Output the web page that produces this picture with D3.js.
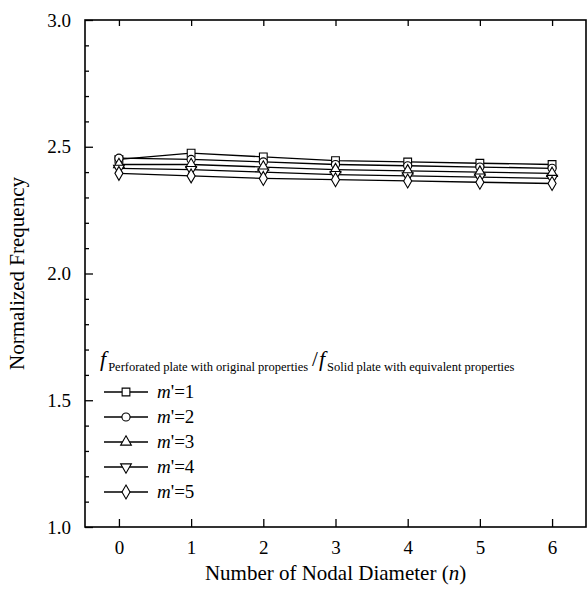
<!DOCTYPE html>
<html>
<head>
<meta charset="utf-8">
<script src="https://cdn.jsdelivr.net/npm/d3@7"></script>
<style>
  body { margin: 0; background: #fff; }
  text { font-family: "Liberation Serif", "Times New Roman", serif; fill: #000; }
</style>
</head>
<body>
<script>
// chart data
const nodalDiameters = [0, 1, 2, 3, 4, 5, 6];
const seriesNames = ["1", "2", "3", "4", "5"];
const m1 = [2.450, 2.475, 2.460, 2.445, 2.440, 2.435, 2.430];
const m2 = [2.455, 2.450, 2.440, 2.430, 2.425, 2.420, 2.415];
const m3 = [2.430, 2.430, 2.420, 2.410, 2.405, 2.400, 2.395];
const m4 = [2.415, 2.410, 2.400, 2.390, 2.385, 2.380, 2.375];
const m5 = [2.395, 2.385, 2.375, 2.370, 2.365, 2.360, 2.355];
const yTicks = [1.0, 1.5, 2.0, 2.5, 3.0];

const width = 588, height = 594;
const margin = {top: 20, right: 2, bottom: 67, left: 85};

const svg = d3.select("body").append("svg")
  .attr("width", width)
  .attr("height", height);

const x = d3.scaleLinear().domain([-0.47, 6.47]).range([margin.left, width - margin.right]);
const y = d3.scaleLinear().domain([1.0, 3.0]).range([height - margin.bottom, margin.top]);

const plotW = width - margin.right - margin.left;
const plotH = height - margin.bottom - margin.top;

// axes, ticks point inward
svg.append("g")
  .attr("transform", `translate(0,${height - margin.bottom})`)
  .call(d3.axisBottom(x).tickValues(nodalDiameters).tickSize(-8).tickPadding(14).tickFormat(d3.format("d")));
svg.append("g")
  .attr("transform", `translate(0,${margin.top})`)
  .call(d3.axisTop(x).tickValues(nodalDiameters).tickSize(-6).tickFormat(""));

const yMinor = d3.range(1.1, 3.0, 0.1).filter(v => Math.abs(v * 2 - Math.round(v * 2)) > 0.01);
svg.append("g")
  .attr("transform", `translate(${margin.left},0)`)
  .call(d3.axisLeft(y).tickValues(yMinor).tickSize(-4).tickFormat(""));
svg.append("g")
  .attr("transform", `translate(${margin.left},0)`)
  .call(d3.axisLeft(y).tickValues(yTicks).tickSize(-8).tickPadding(14).tickFormat(d3.format(".1f")));

svg.selectAll(".domain").remove();
svg.selectAll(".tick line").attr("stroke", "#000").attr("stroke-width", 1.3);
svg.selectAll(".tick text").style("font-size", "19px");

// frame
svg.append("rect")
  .attr("x", margin.left).attr("y", margin.top)
  .attr("width", plotW).attr("height", plotH)
  .attr("fill", "none").attr("stroke", "#000").attr("stroke-width", 1.6);

// axis titles
const xTitle = svg.append("text")
  .attr("x", margin.left + plotW / 2)
  .attr("y", 580)
  .attr("text-anchor", "middle")
  .style("font-size", "21px")
  .text("Number of Nodal Diameter (");
xTitle.append("tspan").style("font-style", "italic").text("n");
xTitle.append("tspan").text(")");

svg.append("text")
  .attr("transform", `translate(24,${margin.top + plotH / 2}) rotate(-90)`)
  .attr("text-anchor", "middle")
  .style("font-size", "21px")
  .text("Normalized Frequency");

// series
const allSeries = [m1, m2, m3, m4, m5];
const symbols = [d3.symbolSquare, d3.symbolCircle, d3.symbolTriangle, "down", d3.symbolDiamond];
const markerSize = [60, 52, 50, 50, 56];

const markerPath = (i) => {
  const s = symbols[i] === "down" ? d3.symbolTriangle : symbols[i];
  return d3.symbol(s, markerSize[i])();
};
const flip = i => symbols[i] === "down" ? " rotate(180)" : "";

const line = d3.line()
  .x((d, i) => x(nodalDiameters[i]))
  .y(d => y(d));

allSeries.forEach((vals, i) => {
  svg.append("path")
    .datum(vals)
    .attr("fill", "none")
    .attr("stroke", "#000")
    .attr("stroke-width", 1.3)
    .attr("d", line);

  svg.append("g")
    .selectAll("path")
    .data(vals)
    .join("path")
    .attr("d", markerPath(i))
    .attr("transform", (d, j) => `translate(${x(nodalDiameters[j])},${y(d)})${flip(i)}`)
    .attr("fill", "#fff")
    .attr("stroke", "#000")
    .attr("stroke-width", 1.1);
});

// legend
const legend = svg.append("g").attr("transform", "translate(100,0)");
const header = legend.append("text").attr("x", 0).attr("y", 366);
header.append("tspan").style("font-style", "italic").style("font-size", "22px").text("f");
header.append("tspan").attr("dy", 5).attr("dx", 2).style("font-size", "12.5px").text("Perforated plate with original properties");
header.append("tspan").attr("dy", -5).attr("dx", 4).style("font-size", "21px").text("/");
header.append("tspan").attr("dx", 1).style("font-style", "italic").style("font-size", "22px").text("f");
header.append("tspan").attr("dy", 5).attr("dx", 2).style("font-size", "12.5px").text("Solid plate with equivalent properties");

seriesNames.forEach((name, i) => {
  const ly = 392 + i * 25;
  const g = legend.append("g").attr("transform", `translate(0,${ly})`);
  g.append("line").attr("x1", 4).attr("x2", 48).attr("y1", 0).attr("y2", 0)
    .attr("stroke", "#000").attr("stroke-width", 1.3);
  g.append("path")
    .attr("d", markerPath(i))
    .attr("transform", `translate(26,0)${flip(i)}`)
    .attr("fill", "#fff").attr("stroke", "#000").attr("stroke-width", 1.1);
  const t = g.append("text").attr("x", 57).attr("y", 6).style("font-size", "19px");
  t.append("tspan").style("font-style", "italic").text("m");
  t.append("tspan").text("'=" + name);
});
</script>
</body>
</html>
